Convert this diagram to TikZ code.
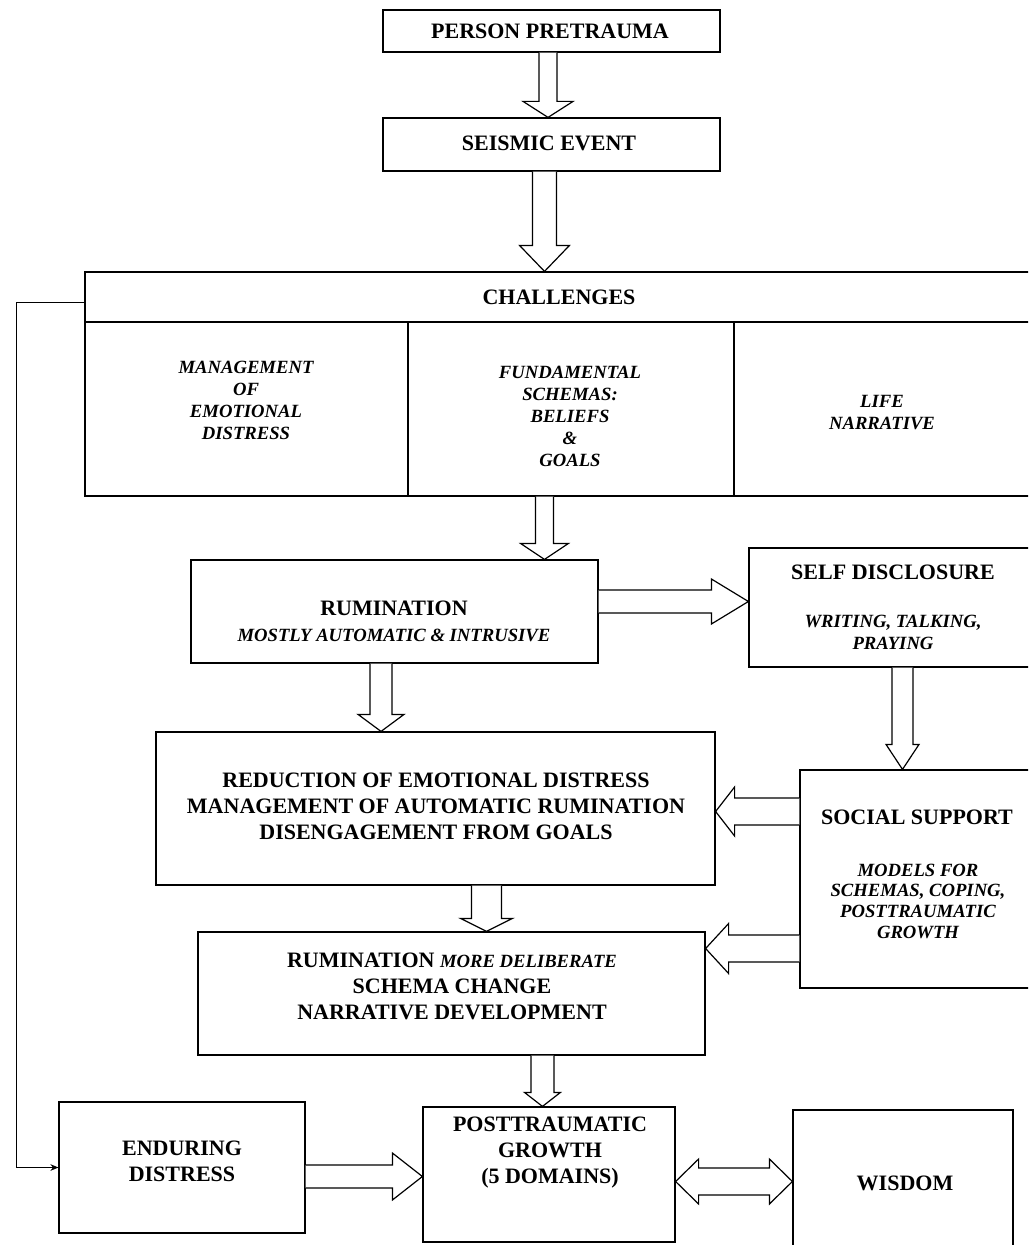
\documentclass[tikz,border=0pt]{standalone}
\usepackage{fontspec}
\setmainfont{Liberation Serif}
\usetikzlibrary{calc,fit,arrows.meta}
\newcommand\itfont{\itshape\fontsize{14}{16.5}\selectfont}
% vertical block arrow: #1 start, #2 end (y only), #3 shaft half, #4 head half, #5 head length (px)
\newcommand\dnarrow[5]{\draw[barrow] let \p1=(#1), \p2=(#2) in
 (\x1-#3*0.75pt,\y1) -- (\x1-#3*0.75pt,\y2+#5*0.75pt) -- (\x1-#4*0.75pt,\y2+#5*0.75pt) -- (\x1,\y2)
 -- (\x1+#4*0.75pt,\y2+#5*0.75pt) -- (\x1+#3*0.75pt,\y2+#5*0.75pt) -- (\x1+#3*0.75pt,\y1);}
\newcommand\rtarrow[5]{\draw[barrow] let \p1=(#1), \p2=(#2) in
 (\x1,\y1+#3*0.75pt) -- (\x2-#5*0.75pt,\y1+#3*0.75pt) -- (\x2-#5*0.75pt,\y1+#4*0.75pt) -- (\x2,\y1)
 -- (\x2-#5*0.75pt,\y1-#4*0.75pt) -- (\x2-#5*0.75pt,\y1-#3*0.75pt) -- (\x1,\y1-#3*0.75pt);}
\newcommand\ltarrow[5]{\draw[barrow] let \p1=(#1), \p2=(#2) in
 (\x1,\y1+#3*0.75pt) -- (\x2+#5*0.75pt,\y1+#3*0.75pt) -- (\x2+#5*0.75pt,\y1+#4*0.75pt) -- (\x2,\y1)
 -- (\x2+#5*0.75pt,\y1-#4*0.75pt) -- (\x2+#5*0.75pt,\y1-#3*0.75pt) -- (\x1,\y1-#3*0.75pt);}
\newcommand\dbarrow[5]{\draw[barrow] let \p1=(#1), \p2=(#2) in
 (\x1,\y1) -- (\x1+#5*0.75pt,\y1+#4*0.75pt) -- (\x1+#5*0.75pt,\y1+#3*0.75pt) -- (\x2-#5*0.75pt,\y1+#3*0.75pt)
 -- (\x2-#5*0.75pt,\y1+#4*0.75pt) -- (\x2,\y1) -- (\x2-#5*0.75pt,\y1-#4*0.75pt) -- (\x2-#5*0.75pt,\y1-#3*0.75pt)
 -- (\x1+#5*0.75pt,\y1-#3*0.75pt) -- (\x1+#5*0.75pt,\y1-#4*0.75pt) -- cycle;}
\begin{document}
\begin{tikzpicture}[x=0.75pt,y=-0.75pt,
 box/.style={draw, line width=0.9pt, fill=white, inner sep=0pt},
 mtext/.style={font=\bfseries\fontsize{16.5}{19.5}\selectfont, align=center, inner sep=0pt},
 itext/.style={font=\bfseries\itshape\fontsize{14}{16.5}\selectfont, align=center, inner sep=0pt},
 barrow/.style={draw, line width=0.9pt, fill=white, line join=miter},
 fbline/.style={draw, line width=0.7pt, -{Stealth[length=6pt,width=5pt]}},
 rule/.style={line width=0.9pt}]
\useasboundingbox (0,0) rectangle (1028,1245);
\clip (0,0) rectangle (1028,1245);
\fill[white] (0,0) rectangle (1028,1245);

% boxes
\node[box, fit={(383,10)(720,52)}] (pp) {};
\node[box, fit={(383,118)(720,171)}] (se) {};
\node[box, fit={(85,272)(1040,496)}] (ch) {};
\node[box, fit={(191,560)(598,663)}] (rum) {};
\node[box, fit={(749,548)(1040,667)}] (sd) {};
\node[box, fit={(156,732)(715,885)}] (red) {};
\node[box, fit={(800,770)(1040,988)}] (ss) {};
\node[box, fit={(198,932)(705,1055)}] (rum2) {};
\node[box, fit={(59,1102)(305,1233)}] (ed) {};
\node[box, fit={(423,1107)(675,1242)}] (ptg) {};
\node[box, fit={(793,1110)(1013,1260)}] (wis) {};

% challenges table rules
\draw[rule] (85,322) -- (1040,322);
\draw[rule] (408,322) -- (408,496);
\draw[rule] (734,322) -- (734,496);

% texts
\node[mtext] (tpp) at (550,31) {PERSON PRETRAUMA};
\node[mtext] (tse) at (549,143) {SEISMIC EVENT};
\node[mtext] (tch) at (559,297) {CHALLENGES};
\node[itext] (tc1) at (246,400) {MANAGEMENT\\OF\\EMOTIONAL\\DISTRESS};
\node[itext] (tc2) at (570,416) {FUNDAMENTAL\\SCHEMAS:\\BELIEFS\\\&\\GOALS};
\node[itext] (tc3) at (882,413) {LIFE\\NARRATIVE};
\node[mtext] (trum) at (394,621) {RUMINATION\\{\itfont MOSTLY AUTOMATIC \& INTRUSIVE}};
\node[mtext] (tsd1) at (893,572) {SELF DISCLOSURE};
\node[itext] (tsd2) at (893,632) {WRITING, TALKING,\\PRAYING};
\node[mtext] (tred) at (436,806) {REDUCTION OF EMOTIONAL DISTRESS\\MANAGEMENT OF AUTOMATIC RUMINATION\\DISENGAGEMENT FROM GOALS};
\node[mtext] (tss1) at (917,817) {SOCIAL SUPPORT};
\node[itext, font=\bfseries\itshape\fontsize{14}{15.5}\selectfont] (tss2) at (918,901) {MODELS FOR\\SCHEMAS, COPING,\\POSTTRAUMATIC\\GROWTH};
\node[mtext] (trum2) at (452,986) {RUMINATION {\itfont MORE DELIBERATE}\\SCHEMA CHANGE\\NARRATIVE DEVELOPMENT};
\node[mtext] (ted) at (182,1161) {ENDURING\\DISTRESS};
\node[mtext] (tptg) at (550,1153) {POSTTRAUMATIC\\GROWTH\\(5 DOMAINS)};
\node[mtext] (twis) at (905,1183) {WISDOM};

% block arrows
\coordinate (a1) at ([xshift=-2.6pt]pp.south);
\dnarrow{a1}{se.north}{9}{25}{16}
\coordinate (a2) at ([xshift=-5.25pt]se.south);
\dnarrow{a2}{ch.north}{12}{25}{26}
\coordinate (a3) at (a2 |- ch.south);
\dnarrow{a3}{rum.north}{9}{24}{16}
\coordinate (a4) at ([yshift=7.5pt]rum.east);
\rtarrow{a4}{sd.west}{11.5}{22.5}{37}
\coordinate (a5) at ([xshift=-10.1pt]rum.south);
\dnarrow{a5}{red.north}{11}{23}{17}
\coordinate (a6) at ([xshift=6pt]sd.south);
\dnarrow{a6}{ss.north}{10.5}{16.5}{25}
\coordinate (a7) at ([yshift=-2.25pt]red.east);
\ltarrow{ss.west |- a7}{red.east}{13.5}{24.5}{19}
\coordinate (a8) at ([xshift=38.25pt]red.south);
\dnarrow{a8}{rum2.north}{15}{26}{13}
\coordinate (a9) at ([yshift=33.75pt]rum2.east);
\ltarrow{ss.west |- a9}{rum2.east}{13.5}{25}{23}
\coordinate (a10) at ([xshift=-4.9pt]ptg.north);
\dnarrow{rum2.south -| a10}{ptg.north}{11.5}{18}{14}
\coordinate (a11) at ([yshift=-6.75pt]ed.east);
\rtarrow{a11}{ptg.west}{11.5}{23.5}{30}
\coordinate (a12) at ([yshift=-5.25pt]ptg.east);
\dbarrow{a12}{wis.west}{13.5}{22.5}{23}

% feedback line
\coordinate (fb) at (16,302);
\draw[fbline] (ch.west |- fb) -- (fb) |- (ed.west);
\end{tikzpicture}
\end{document}
